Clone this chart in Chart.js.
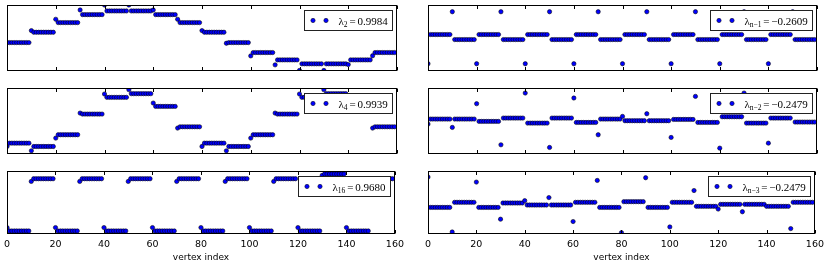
<!DOCTYPE html>
<html><head><meta charset="utf-8">
<script src="https://cdn.jsdelivr.net/npm/chart.js@4.4.1/dist/chart.umd.min.js"></script>
<style>
html,body{margin:0;padding:0;background:#fff;}
body{width:830px;height:266px;position:relative;overflow:hidden;}
canvas{position:absolute;}
</style></head><body>
<canvas id="c0"></canvas><canvas id="c1"></canvas><canvas id="c2"></canvas>
<canvas id="c3"></canvas><canvas id="c4"></canvas><canvas id="c5"></canvas>
<script>
// ---- data (y in normalised units, each panel 0..1) ----
const xTickValues = [0, 20, 40, 60, 80, 100, 120, 140, 160];
const xAxisTitle = 'vertex index';
const groupSize = 10;           // each block: first vertex (hub) + 9 vertices at a common level
const vertexCount = 160;

const eigenSubscripts = ['2', '4', '16', 'n\u22121', 'n\u22122', 'n\u22123'];
const eigenValues = [0.9984, 0.9939, 0.9680, -0.2609, -0.2479, -0.2479];

const hubs_l2   = [0.426,0.609,0.782,0.924,1.000,1.000,0.924,0.782,0.609,0.416,0.223,0.086,0.000,0.000,0.090,0.225];
const levels_l2 = [0.426,0.584,0.731,0.853,0.909,0.909,0.853,0.731,0.584,0.426,0.274,0.162,0.102,0.102,0.162,0.274];

const hubs_l4   = [0.107,0.041,0.235,0.617,0.908,0.974,0.770,0.388,0.107,0.041,0.235,0.617,0.908,0.974,0.770,0.388];
const levels_l4 = [0.158,0.107,0.286,0.602,0.857,0.913,0.719,0.408,0.158,0.107,0.286,0.602,0.857,0.913,0.719,0.408];

const hubs_l16   = [0.102,0.834,0.102,0.834,0.102,0.834,0.102,0.834,0.102,0.834,0.102,0.834,0.102,0.930,0.102,0.834];
const levels_l16 = [0.048,0.877,0.048,0.877,0.048,0.877,0.048,0.877,0.048,0.877,0.048,0.877,0.048,0.952,0.048,0.877];

const hubs_n1   = [0.103,0.897,0.103,0.897,0.103,0.897,0.103,0.897,0.103,0.897,0.103,0.897,0.103,0.897,0.103,0.897];
const levels_n1 = [0.549,0.472,0.549,0.472,0.549,0.472,0.549,0.472,0.549,0.472,0.549,0.472,0.549,0.472,0.549,0.472];

const hubs_n2   = [0.449,0.398,0.760,0.133,0.923,0.092,0.847,0.286,0.566,0.607,0.245,0.872,0.082,0.923,0.158,0.770];
const levels_n2 = [0.526,0.526,0.490,0.541,0.464,0.541,0.474,0.526,0.500,0.500,0.520,0.474,0.561,0.464,0.541,0.480];

const hubs_n3   = [0.904,0.032,0.824,0.235,0.529,0.578,0.198,0.850,0.021,0.893,0.112,0.690,0.396,0.353,0.439,0.086];
const levels_n3 = [0.422,0.503,0.422,0.492,0.460,0.460,0.503,0.422,0.513,0.422,0.503,0.439,0.471,0.471,0.439,0.503];

const panelHubs   = [hubs_l2, hubs_l4, hubs_l16, hubs_n1, hubs_n2, hubs_n3];
const panelLevels = [levels_l2, levels_l4, levels_l16, levels_n1, levels_n2, levels_n3];

// ---- build point tables ----
function buildPoints(hubs, levels) {
  const pts = [];
  for (let i = 0; i < vertexCount; i++) {
    const g = Math.floor(i / groupSize);
    pts.push({x: i, y: (i % groupSize === 0) ? hubs[g] : levels[g]});
  }
  return pts;
}

// ---- layout (axes boxes in page px) ----
const colLeft = [7, 428], colWidth = [390, 389];
const rowTop = [5, 88, 171], rowHeight = [65.5, 65.5, 63];
const PADX = 12, PADT = 4;
const DOT_R = 2.15;

const framePlugin = {
  id: 'frameLegend',
  afterDatasetsDraw(chart, args, opts) {
    const ctx = chart.ctx, a = chart.chartArea, xs = chart.scales.x;
    ctx.save();
    // frame
    ctx.strokeStyle = '#000'; ctx.lineWidth = 1;
    const L = Math.round(a.left) + 0.5, R = Math.round(a.right) - 0.5;
    const T = Math.round(a.top) + 0.5, B = Math.round(a.bottom) - 0.5;
    ctx.strokeRect(L, T, R - L, B - T);
    // inward ticks
    ctx.beginPath();
    xTickValues.forEach(v => {
      const px = Math.round(xs.getPixelForValue(v)) + 0.5;
      ctx.moveTo(px, T); ctx.lineTo(px, T + 3.5);
      ctx.moveTo(px, B); ctx.lineTo(px, B - 3.5);
    });
    ctx.stroke();
    // legend
    const sub = opts.sub;
    const valStr = opts.val.toFixed(4).replace('-', '\u2212');
    const fMain = '11px "Liberation Serif", "DejaVu Serif", serif';
    const fSub = '7.5px "Liberation Serif", "DejaVu Serif", serif';
    ctx.font = fMain;
    const wL = ctx.measureText('\u03bb').width;
    const wEq = ctx.measureText('=').width;
    const wV = ctx.measureText(valStr).width;
    ctx.font = fSub;
    const wS = ctx.measureText(sub).width;
    const gap = 1.8;
    const textW = wL + wS + gap + wEq + gap + wV;
    const boxW = Math.round(34 + textW + 5), boxH = 20;
    const x0 = Math.round(a.right - 5 - boxW) + 0.5, y0 = Math.round(a.top + 5) + 0.5;
    ctx.fillStyle = '#fff';
    ctx.fillRect(x0, y0, boxW, boxH);
    ctx.strokeStyle = '#222'; ctx.lineWidth = 1;
    ctx.strokeRect(x0, y0, boxW, boxH);
    const cy = y0 + boxH / 2;
    [8.5, 21.5].forEach(dx => {
      ctx.beginPath(); ctx.arc(x0 + dx, cy, DOT_R, 0, Math.PI * 2);
      ctx.fillStyle = '#0000ff'; ctx.fill();
      ctx.lineWidth = 0.5; ctx.strokeStyle = '#000'; ctx.stroke();
    });
    ctx.fillStyle = '#000';
    ctx.textBaseline = 'alphabetic'; ctx.textAlign = 'left';
    let tx = x0 + 34;
    const base = cy + 4;
    ctx.font = fMain; ctx.fillText('\u03bb', tx, base); tx += wL;
    ctx.font = fSub; ctx.fillText(sub, tx, base + 2.5); tx += wS + gap;
    ctx.font = fMain; ctx.fillText('=', tx, base); tx += wEq + gap;
    ctx.fillText(valStr, tx, base);
    ctx.restore();
  }
};

for (let p = 0; p < 6; p++) {
  const col = p < 3 ? 0 : 1, row = p % 3;
  const bottomRow = row === 2;
  const cv = document.getElementById('c' + p);
  const w = colWidth[col] + 2 * PADX;
  const axisH = bottomRow ? 29 : 0;
  const padB = bottomRow ? 3 : 4.5;
  const h = Math.round(PADT + rowHeight[row] + axisH + padB);
  cv.width = w; cv.height = h;
  cv.style.left = (colLeft[col] - PADX) + 'px';
  cv.style.top = (rowTop[row] - PADT) + 'px';
  cv.style.width = w + 'px'; cv.style.height = h + 'px';
  new Chart(cv, {
    type: 'scatter',
    data: { datasets: [{
      data: buildPoints(panelHubs[p], panelLevels[p]),
      backgroundColor: '#0000ff', borderColor: '#000000', borderWidth: 0.55,
      pointRadius: DOT_R, pointHoverRadius: DOT_R, clip: 0
    }]},
    options: {
      responsive: false, animation: false, devicePixelRatio: 1,
      events: [],
      layout: { padding: { left: PADX, right: PADX, top: PADT, bottom: padB } },
      plugins: { legend: { display: false }, tooltip: { enabled: false },
                 frameLegend: { sub: eigenSubscripts[p], val: eigenValues[p] } },
      scales: {
        x: {
          type: 'linear', min: 0, max: 160, display: bottomRow,
          grid: { display: false, drawTicks: false }, border: { display: false },
          afterBuildTicks: s => { s.ticks = xTickValues.map(v => ({value: v})); },
          afterFit: s => { if (bottomRow) s.height = axisH; },
          ticks: { autoSkip: false, maxRotation: 0, padding: 5, color: '#000',
                   font: { family: '"DejaVu Sans", sans-serif', size: 9.5, lineHeight: 1.2 } },
          title: { display: bottomRow, text: xAxisTitle, color: '#000', padding: 0,
                   font: { family: '"DejaVu Sans", sans-serif', size: 9, lineHeight: 1.2 } }
        },
        y: { type: 'linear', min: 0, max: 1, display: false }
      }
    },
    plugins: [framePlugin]
  });
}
</script>
</body></html>
